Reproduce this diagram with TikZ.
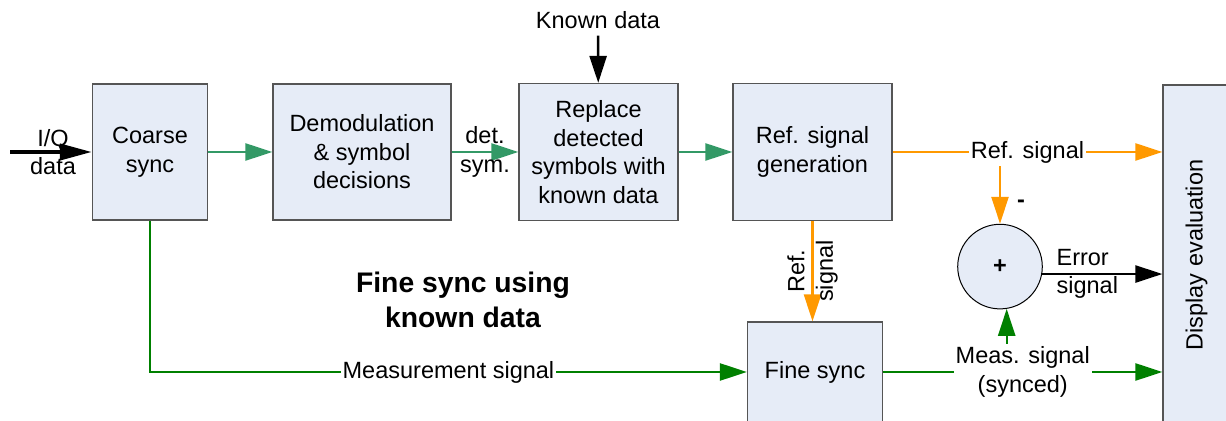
\documentclass[tikz,border=0pt]{standalone}
\usepackage{fontspec}
\setmainfont{Liberation Sans}
\usetikzlibrary{arrows.meta,positioning}
\definecolor{boxfill}{HTML}{E6ECF7}
\definecolor{boxline}{HTML}{555555}
\definecolor{topgreen}{HTML}{339966}
\definecolor{lowgreen}{HTML}{008000}
\definecolor{reforange}{HTML}{FF9900}
\tikzset{
  blk/.style={draw=boxline, line width=0.6pt, fill=boxfill, align=center, inner sep=0pt},
  sig/.style={line width=1.2pt, -{Triangle[length=13.5pt,width=8.5pt]}},
  lbl/.style={fill=white, inner sep=1pt, align=center},
}
\begin{document}
\begin{tikzpicture}[x=0.5pt, y=-0.5pt, every node/.style={font=\fontsize{11.75}{14.25}\selectfont}]
  \useasboundingbox (0,0) rectangle (1226,421);
  % blocks
  \node[blk, minimum width=57.5pt, minimum height=68pt] (coarse) at (150,152) {Coarse\\sync};
  \node[blk, minimum width=89pt, minimum height=68pt] (demod) at (362,152) {Demodulation\\\& symbol\\decisions};
  \node[blk, minimum width=79.5pt, minimum height=68.5pt] (replace) at (598.5,152) {Replace\\detected\\symbols with\\known data};
  \node[blk, minimum width=79.5pt, minimum height=68.5pt] (refgen) at (812.5,152) {Ref. signal\\generation};
  \node[blk, minimum width=67.5pt, minimum height=50pt] (fine) at (815,372) {Fine sync};
  \node[blk, rotate=90, minimum width=170pt, minimum height=33.5pt] (display) at (1196.5,255) {Display evaluation};
  \node[blk, draw=black, line width=0.5pt, circle, minimum size=42.3pt] (sum) at (1000,266.6) {\textbf{+}};
  \node[font=\fontsize{14.15}{17.5}\selectfont\bfseries, align=center] (title) at (463,300) {Fine sync using\\known data};
  % inputs
  \node[align=center] (iq) at (53,152) {I/Q\\data};
  \coordinate (iqin) at (10,152);
  \draw[line width=2pt, -{Triangle[length=16pt,width=8pt]}] (iqin) -- (coarse.west);
  \node (known) at (598,20) {Known data};
  \draw[sig] (known) -- (replace);
  % upper chain
  \draw[sig, draw=topgreen] (coarse) -- (demod);
  \draw[sig, draw=topgreen] (demod) -- (replace) node[midway, align=center] {det.\\sym.};
  \draw[sig, draw=topgreen] (replace) -- (refgen);
  % reference signal
  \draw[sig, draw=reforange] (refgen) -- (display.north |- refgen) node[midway, lbl] (refl) {Ref. signal};
  \draw[sig, draw=reforange] (refl.south -| sum.north) -- (sum.north);
  \node[font=\fontsize{11.75}{14.25}\selectfont\bfseries] (minus) at (1021,204) {-};
  \draw[sig, draw=reforange] (refgen.south) -- (refgen.south |- fine.north)
    node[midway, rotate=90, align=center] {Ref.\\signal};
  % error
  \draw[sig] (sum.-10) -- (display.north |- sum.-10)
    node[pos=0.11, anchor=west, align=left, inner sep=0pt] {Error\\signal};
  % measurement path
  \draw[sig, draw=lowgreen] (coarse.south) |- (fine.west) node[pos=0.75, lbl] {Measurement signal};
  \draw[sig, draw=lowgreen] (fine) -- (display.north |- fine) node[midway, lbl] (measl) {Meas. signal\\(synced)};
  \draw[sig, draw=lowgreen] (sum.-81 |- measl.north) -- (sum.-81);
\end{tikzpicture}
\end{document}
